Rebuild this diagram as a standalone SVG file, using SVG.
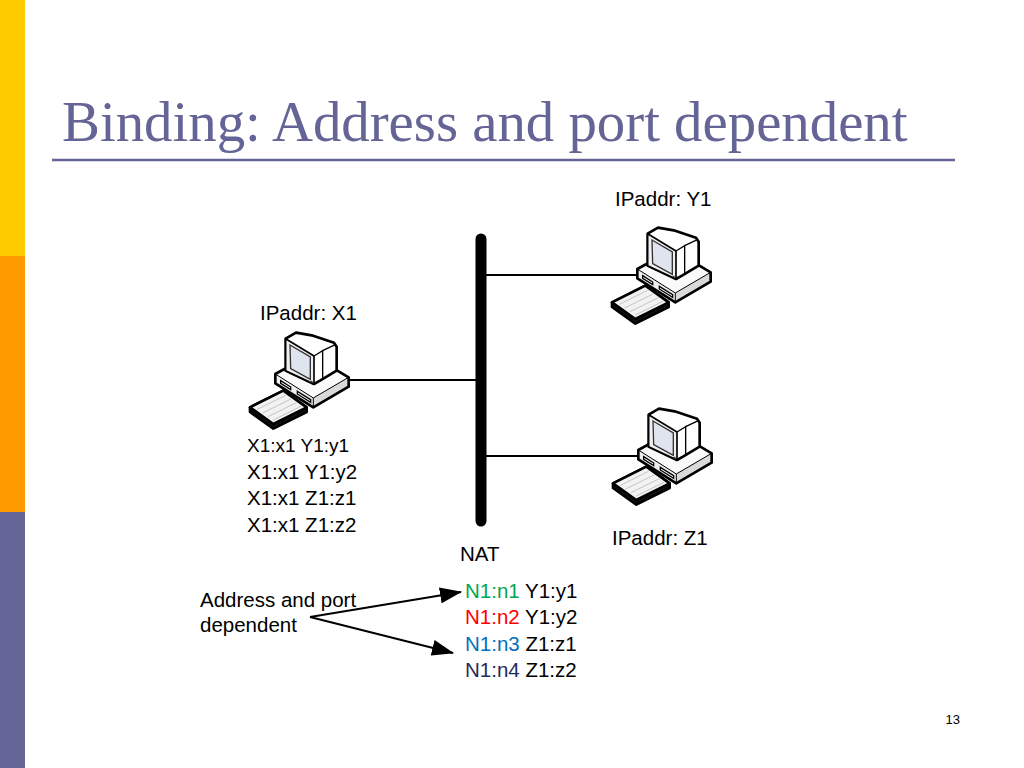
<svg xmlns="http://www.w3.org/2000/svg" xmlns:xlink="http://www.w3.org/1999/xlink" width="1024" height="768" viewBox="0 0 1024 768">
<style>
.t{font-family:"Liberation Sans",Arial,sans-serif;font-size:20.5px;fill:#000}
.title{font-family:"Liberation Serif","Times New Roman",serif;font-size:56.8px;fill:#646496}
.ol{stroke:#000;stroke-width:8;stroke-linejoin:round}
.link{stroke:#000;stroke-width:2;fill:none}
</style>
<defs>
<marker id="ah" viewBox="0 0 22 16" refX="21" refY="8" markerWidth="22" markerHeight="16" markerUnits="userSpaceOnUse" orient="auto">
<path d="M0,0 L22,8 L0,16 Z" fill="#000"/>
</marker>
<g id="pc">
<polygon points="30,262 130,212 200,262 200,276 100,326 30,276" fill="#111" class="ol"/>
<polygon points="30,262 130,212 200,262 100,312" fill="#f2f2f2" class="ol"/>
<g stroke="#c4c4c4" stroke-width="3">
<line x1="52" y1="268" x2="137" y2="226"/>
<line x1="68" y1="279" x2="153" y2="237"/>
<line x1="84" y1="290" x2="169" y2="248"/>
<line x1="100" y1="300" x2="183" y2="259"/>
</g>
<polygon points="106,162 212,104 326,172 220,234" fill="#fafafa"/>
<polygon points="106,162 220,234 220,262 106,190" fill="#eeeeee"/>
<polygon points="220,234 326,172 326,200 220,262" fill="#dadada"/>
<polygon points="106,162 212,104 326,172 326,200 220,262 106,190" fill="none" class="ol"/>
<polyline points="106,162 220,234 326,172" fill="none" stroke="#000" stroke-width="3"/>
<line x1="220" y1="234" x2="220" y2="262" stroke="#000" stroke-width="3"/>
<polygon points="122,182 152,201 152,209 122,190" fill="#fff" stroke="#000" stroke-width="4"/>
<polygon points="172,214 212,239 212,247 172,222" fill="#fff" stroke="#000" stroke-width="4"/>
<polygon points="137,56 168,38 215,46 282,68 290,80 290,152 240,182 222,192 137,152" fill="#fff" class="ol"/>
<polyline points="222,108 248,92 248,180" fill="none" stroke="#000" stroke-width="4"/>
<polyline points="248,92 286,74" fill="none" stroke="#000" stroke-width="4"/>
<polygon points="137,56 222,108 222,192 137,152" fill="#f0f0f0" stroke="#000" stroke-width="5" stroke-linejoin="round"/>
<polygon points="150,75 211,111 211,178 152,146" fill="#dfe4ee" stroke="#333" stroke-width="4"/>
<circle cx="215" cy="185" r="3" fill="#333"/>
</g>
</defs>
<rect x="0" y="0" width="1024" height="768" fill="#fff"/>
<g id="sidebar">
<rect x="0" y="0" width="25" height="256" fill="#ffcc00"/>
<rect x="0" y="256" width="25" height="256" fill="#ff9900"/>
<rect x="0" y="512" width="25" height="256" fill="#666699"/>
</g>
<g id="title">
<text class="title" x="62" y="141">Binding: Address and port dependent</text>
<line x1="52" y1="160" x2="955" y2="160" stroke="#646496" stroke-width="2.5"/>
</g>
<g id="connectors">
<line x1="481" y1="239" x2="481" y2="521" stroke="#000" stroke-width="11" stroke-linecap="round"/>
<line class="link" x1="348" y1="380" x2="476" y2="380"/>
<line class="link" x1="486" y1="275" x2="640" y2="275"/>
<line class="link" x1="486" y1="456" x2="640" y2="456"/>
<line class="link" x1="310" y1="617" x2="461" y2="592" marker-end="url(#ah)"/>
<line class="link" x1="310" y1="617" x2="453" y2="653" marker-end="url(#ah)"/>
</g>
<g id="hostX1">
<use xlink:href="#pc" href="#pc" transform="translate(240,320) scale(0.3333)"/>
<text class="t" x="260" y="320">IPaddr: X1</text>
<text class="t" x="247" y="452" style="font-size:19px">X1:x1 Y1:y1</text>
<text class="t" x="247" y="479">X1:x1 Y1:y2</text>
<text class="t" x="247" y="505">X1:x1 Z1:z1</text>
<text class="t" x="247" y="532">X1:x1 Z1:z2</text>
</g>
<g id="hostY1">
<use xlink:href="#pc" href="#pc" transform="translate(602,215) scale(0.3333)"/>
<text class="t" x="615" y="206">IPaddr: Y1</text>
</g>
<g id="hostZ1">
<use xlink:href="#pc" href="#pc" transform="translate(603,396) scale(0.3333)"/>
<text class="t" x="612" y="545">IPaddr: Z1</text>
</g>
<g id="nat">
<text class="t" x="460" y="561">NAT</text>
<text class="t" x="465" y="598"><tspan fill="#00a651">N1:n1</tspan> Y1:y1</text>
<text class="t" x="465" y="624"><tspan fill="#ff0000">N1:n2</tspan> Y1:y2</text>
<text class="t" x="465" y="651"><tspan fill="#0070c0">N1:n3</tspan> Z1:z1</text>
<text class="t" x="465" y="677"><tspan fill="#1f2a5c">N1:n4</tspan> Z1:z2</text>
</g>
<g id="note">
<text class="t" x="200" y="607">Address and port</text>
<text class="t" x="200" y="632">dependent</text>
</g>
<text id="page" x="960" y="724" text-anchor="end" style="font-family:'Liberation Sans',Arial,sans-serif;font-size:13px">13</text>
</svg>
